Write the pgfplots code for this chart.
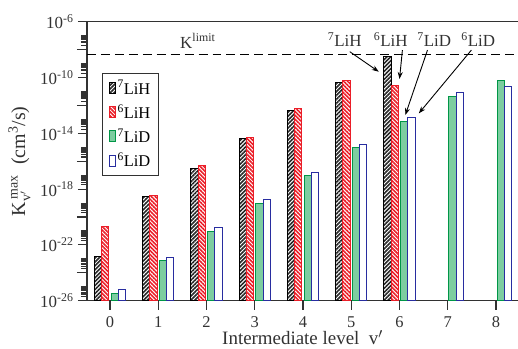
\documentclass[border=0pt]{standalone}
\usepackage{pgfplots}
\pgfplotsset{compat=1.18}
\usepackage{fontspec}
\setmainfont{Liberation Serif}
\usetikzlibrary{patterns.meta,arrows.meta,calc}
\definecolor{cRed}{RGB}{235,30,40}
\definecolor{cGreenE}{RGB}{0,150,70}
\definecolor{cGreenF}{RGB}{125,205,160}
\definecolor{cBlue}{RGB}{40,45,160}
\definecolor{cAx}{RGB}{50,50,50}

\pgfplotstableread{
x  y
0  1.58e-23
1  3.16e-19
2  3.16e-17
3  4.37e-15
4  4.68e-13
5  4.47e-11
6  3.16e-9
}\tSevLiH
\pgfplotstableread{
x  y
0  2.0e-21
1  3.55e-19
2  5.0e-17
3  5.37e-15
4  6.3e-13
5  6.6e-11
6  2.5e-11
}\tSixLiH
\pgfplotstableread{
x  y
0  3.16e-26
1  7.1e-24
2  8.9e-22
3  1.0e-19
4  8.7e-18
5  8.9e-16
6  7.2e-14
7  4.7e-12
8  5.9e-11
}\tSevLiD
\pgfplotstableread{
x  y
0  6.3e-26
1  1.26e-23
2  1.8e-21
3  1.86e-19
4  1.58e-17
5  1.58e-15
6  1.38e-13
7  8.7e-12
8  2.1e-11
}\tSixLiD

\begin{document}
\begin{tikzpicture}
\begin{axis}[
  scale only axis,
  width=431bp, height=279bp,
  xmin=-0.476, xmax=8.455,
  ymode=log, log origin y=infty,
  ymin=1e-26, ymax=1e-6,
  axis lines*=left,
  axis line style={cAx, line width=1.2pt},
  tick align=outside,
  tick style={cAx, line width=1.1pt},
  major tick length=9bp,
  minor tick length=6bp,
  xtick={0,1,2,3,4,5,6,7,8},
  /pgf/number format/assume math mode=true,
  ytick={1e-26,1e-22,1e-18,1e-14,1e-10,1e-6},
  yticklabels={10\textsuperscript{-26},10\textsuperscript{-22},10\textsuperscript{-18},10\textsuperscript{-14},10\textsuperscript{-10},10\textsuperscript{-6}},
  extra y ticks={1e-24,1e-20,1e-16,1e-12,1e-8},
  extra y tick labels={},
  extra y tick style={major tick length=10bp},
  minor ytick={2e-26,3e-26,4e-26,5e-26,6e-26,7e-26,8e-26,9e-26,1e-25,
    2e-24,3e-24,4e-24,5e-24,6e-24,7e-24,8e-24,9e-24,1e-23,
    2e-22,3e-22,4e-22,5e-22,6e-22,7e-22,8e-22,9e-22,1e-21,
    2e-20,3e-20,4e-20,5e-20,6e-20,7e-20,8e-20,9e-20,1e-19,
    2e-18,3e-18,4e-18,5e-18,6e-18,7e-18,8e-18,9e-18,1e-17,
    2e-16,3e-16,4e-16,5e-16,6e-16,7e-16,8e-16,9e-16,1e-15,
    2e-14,3e-14,4e-14,5e-14,6e-14,7e-14,8e-14,9e-14,1e-13,
    2e-12,3e-12,4e-12,5e-12,6e-12,7e-12,8e-12,9e-12,1e-11,
    2e-10,3e-10,4e-10,5e-10,6e-10,7e-10,8e-10,9e-10,1e-9,
    2e-8,3e-8,4e-8,5e-8,6e-8,7e-8,8e-8,9e-8,1e-7},
  ticklabel style={font=\fontsize{17}{19}\selectfont, text=cAx},
  yticklabel style={xshift=-1bp},
  xticklabel style={font=\fontsize{16.5}{18}\selectfont, inner sep=1pt, yshift=-6bp},
  xlabel={Intermediate level~~v$'$},
  xlabel style={font=\fontsize{19}{21}\selectfont, text=cAx, inner sep=0.5pt, yshift=-0.5bp},
  ylabel={K$_{\mathrm{v}'}^{\,\mathrm{max}}$~~(cm\textsuperscript{3}/s)},
  ylabel style={font=\fontsize{20}{22}\selectfont, text=cAx, yshift=-16bp},
  legend style={at={(rel axis cs:0.035,0.817)}, anchor=north west,
    draw=cAx, line width=1pt, font=\fontsize{16.5}{18}\selectfont,
    row sep=5pt, inner xsep=6pt, inner ysep=5pt, cells={anchor=west}},
  leg/.style={legend image code/.code={\draw[##1, line width=1pt] (3pt,-5.5pt) rectangle (9pt,5.5pt);}},
]
\addplot[ybar, bar width=0.15, bar shift=-0.25, draw=black, line width=1pt,
  pattern={Lines[angle=45,distance=2.8pt,line width=1.6pt]}, pattern color=black!85, leg]
  table[x=x,y=y] {\tSevLiH};
\addlegendentry{\textsuperscript{7}LiH}
\addplot[ybar, bar width=0.15, bar shift=-0.1, draw=cRed, line width=1pt,
  pattern={Lines[angle=-45,distance=2.8pt,line width=1.6pt]}, pattern color=cRed, leg]
  table[x=x,y=y] {\tSixLiH};
\addlegendentry{\textsuperscript{6}LiH}
\addplot[ybar, bar width=0.15, bar shift=0.1, draw=cGreenE, line width=1pt,
  fill=cGreenF, leg]
  table[x=x,y=y] {\tSevLiD};
\addlegendentry{\textsuperscript{7}LiD}
\addplot[ybar, bar width=0.15, bar shift=0.25, draw=cBlue, line width=1pt,
  fill=white, leg]
  table[x=x,y=y] {\tSixLiD};
\addlegendentry{\textsuperscript{6}LiD}
\addplot[sharp plot, black, line width=1.2pt, dash pattern=on 9pt off 5pt, forget plot]
  coordinates {(-0.476,4.6e-9) (8.455,4.6e-9)};
\draw[cAx, line width=1.2pt] (rel axis cs:0,1) -- (rel axis cs:1,1);
\coordinate (bbll) at (rel axis cs:0,0);
\coordinate (bbur) at (rel axis cs:1,1);
\begin{scope}[every node/.style={font=\fontsize{17}{19}\selectfont, text=cAx, anchor=base, inner sep=0pt}]
\node at (axis cs:1.82,1.29e-8) {K\textsuperscript{limit}};
\node at (axis cs:4.866,1.55e-8) {\textsuperscript{7}LiH};
\node at (axis cs:5.818,1.55e-8) {\textsuperscript{6}LiH};
\node at (axis cs:6.72,1.55e-8) {\textsuperscript{7}LiD};
\node at (axis cs:7.63,1.55e-8) {\textsuperscript{6}LiD};
\end{scope}
\begin{scope}[black, line width=0.9pt, -{Stealth[length=7pt,width=5pt]}]
\draw (axis cs:4.969,7.1e-9) -- (axis cs:5.57,2.6e-10);
\draw (axis cs:6.06,9.3e-9) -- (axis cs:6.0,7.8e-11);
\draw (axis cs:6.58,9.3e-9) -- (axis cs:6.12,2.04e-13);
\draw (axis cs:7.49,9.3e-9) -- (axis cs:6.40,2.69e-13);
\end{scope}
\end{axis}
\pgfresetboundingbox
\path[use as bounding box] ($(bbll)+(-87bp,-48.3bp)$) rectangle ($(bbur)+(0,21.7bp)$);
\end{tikzpicture}
\end{document}
